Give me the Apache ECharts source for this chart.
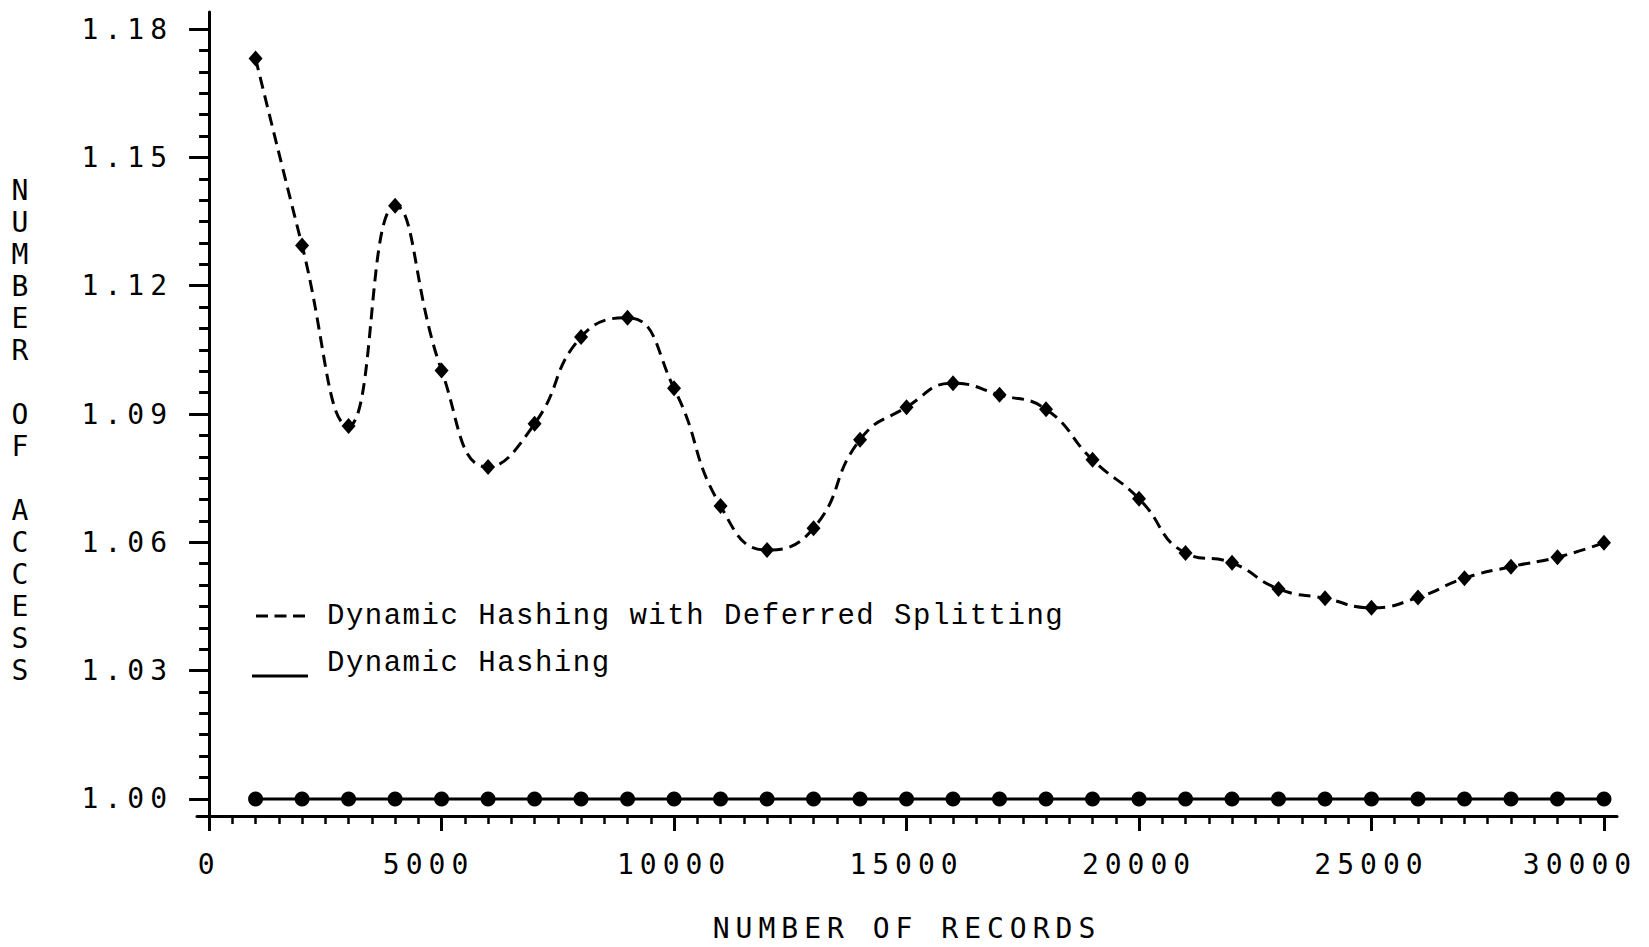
<!DOCTYPE html>
<html>
<head>
<meta charset="utf-8">
<script src="https://cdn.jsdelivr.net/npm/echarts@6/dist/echarts.min.js"></script>
<style>
html,body{margin:0;padding:0;background:#fff;}
#chart{width:1649px;height:947px;}
text[style*="DejaVu Sans Mono"], text[font-family*="DejaVu Sans Mono"]{letter-spacing:6px;}
text[style*="Liberation Mono"], text[font-family*="Liberation Mono"]{letter-spacing:1.5px;}
</style>
</head>
<body>
<div id="chart"></div>
<script>
// ---- data ----
const seriesNames = ['Dynamic Hashing with Deferred Splitting', 'Dynamic Hashing'];
const records = [1000,2000,3000,4000,5000,6000,7000,8000,9000,10000,
                 11000,12000,13000,14000,15000,16000,17000,18000,19000,20000,
                 21000,22000,23000,24000,25000,26000,27000,28000,29000,30000];
const deferredSplitting = [1.1731,1.1294,1.0872,1.1387,1.1002,1.0776,1.0877,1.1080,1.1125,1.0960,
                           1.0685,1.0582,1.0633,1.0840,1.0916,1.0972,1.0945,1.0911,1.0793,1.0702,
                           1.0575,1.0552,1.0491,1.0469,1.0447,1.0471,1.0516,1.0543,1.0565,1.0599];
const dynamicHashing = [1.00,1.00,1.00,1.00,1.00,1.00,1.00,1.00,1.00,1.00,
                        1.00,1.00,1.00,1.00,1.00,1.00,1.00,1.00,1.00,1.00,
                        1.00,1.00,1.00,1.00,1.00,1.00,1.00,1.00,1.00,1.00];
const xTickLabels = [0,5000,10000,15000,20000,25000,30000];
const yTickLabels = [1.00,1.03,1.06,1.09,1.12,1.15,1.18];
const xTitle = 'NUMBER OF RECORDS';
const yTitle = 'NUMBER OF ACCESS';

// ---- scales / ticks ----
const X_MIN = -260, X_MAX = 30280, Y_MIN = 0.996, Y_MAX = 1.184;
const xMinor = []; for (let v = 0; v <= 30000; v += 500) xMinor.push(v);
const yMinor = []; for (let i = 0; i <= 36; i++) yMinor.push((1000 + 5 * i) / 1000);

const tickFont = 'DejaVu Sans Mono';
const black = '#000';
const tokenBase = {fontFamily: tickFont, fontSize: 28, color: black};

const chart = echarts.init(document.getElementById('chart'), null, {renderer: 'svg'});

const yTitleText = '\n' + yTitle.split('').map(c => c === ' ' ? '' : c).join('\n');

chart.setOption({
  animation: false,
  backgroundColor: '#fff',
  grid: {left: 197, right: 32, top: 12, bottom: 131, outerBoundsMode: 'none'},
  legend: {
    left: 247, top: 596, orient: 'vertical',
    itemWidth: 70, itemHeight: 30, itemGap: 17,
    selectedMode: false,
    itemStyle: {borderWidth: 0},
    textStyle: {fontFamily: 'Liberation Mono', fontSize: 29, color: black},
    data: [
      {name: seriesNames[0], icon: 'path://M0,0M70,30M4,13.5L16,13.5L16,16.5L4,16.5ZM22.5,13.5L34.5,13.5L34.5,16.5L22.5,16.5ZM41,13.5L53,13.5L53,16.5L41,16.5Z'},
      {name: seriesNames[1], icon: 'path://M0,0M70,30M0,26.5L56,26.5L56,29.5L0,29.5Z'}
    ]
  },
  xAxis: [
    {
      type: 'value', position: 'bottom', min: X_MIN, max: X_MAX,
      name: xTitle, nameLocation: 'middle', nameGap: 98, nameMoveOverlap: false,
      nameTextStyle: {fontFamily: tickFont, fontSize: 28, color: black},
      axisLine: {show: true, lineStyle: {color: black, width: 3}},
      axisTick: {show: true, length: 15, customValues: xTickLabels, lineStyle: {color: black, width: 3}},
      axisLabel: {show: true, customValues: xTickLabels, margin: 34,
                  fontFamily: tickFont, fontSize: 28, color: black,
                  formatter: v => v === 30000 ? '{e|' + v + '}' : (v === 5000 ? '{f|' + v + '}' : String(v)),
                  rich: {
                    e: Object.assign({padding: [0, 48, 0, 0]}, tokenBase),
                    f: Object.assign({padding: [0, 26, 0, 0]}, tokenBase)
                  }},
      splitLine: {show: false}
    },
    {
      type: 'value', position: 'bottom', min: X_MIN, max: X_MAX,
      axisLine: {show: false},
      axisTick: {show: true, length: 8, customValues: xMinor, lineStyle: {color: black, width: 2.5}},
      axisLabel: {show: false},
      splitLine: {show: false}
    }
  ],
  yAxis: [
    {
      type: 'value', position: 'left', min: Y_MIN, max: Y_MAX,
      name: yTitleText, nameLocation: 'middle', nameGap: 174, nameRotate: 0, nameMoveOverlap: false,
      nameTextStyle: {fontFamily: tickFont, fontSize: 28, color: black, lineHeight: 32,
                      align: 'center', verticalAlign: 'middle'},
      axisLine: {show: true, lineStyle: {color: black, width: 3}},
      axisTick: {show: true, length: 20, customValues: yTickLabels, lineStyle: {color: black, width: 3}},
      axisLabel: {show: true, customValues: yTickLabels, margin: 24,
                  fontFamily: tickFont, fontSize: 28, color: black,
                  formatter: v => Number(v).toFixed(2)},
      splitLine: {show: false}
    },
    {
      type: 'value', position: 'left', min: Y_MIN, max: Y_MAX,
      axisLine: {show: false},
      axisTick: {show: true, length: 10, customValues: yMinor, lineStyle: {color: black, width: 3}},
      axisLabel: {show: false},
      splitLine: {show: false}
    }
  ],
  series: [
    {
      name: seriesNames[0], type: 'line', xAxisIndex: 0, yAxisIndex: 0,
      data: records.map((x, i) => [x, deferredSplitting[i]]),
      smooth: 0.5, showAllSymbol: true,
      symbol: 'diamond', symbolSize: [14, 16],
      lineStyle: {color: black, width: 3, type: [12, 7]},
      itemStyle: {color: black, borderWidth: 0},
      emphasis: {disabled: true},
      z: 3
    },
    {
      name: seriesNames[1], type: 'line', xAxisIndex: 0, yAxisIndex: 0,
      data: records.map((x, i) => [x, dynamicHashing[i]]),
      showAllSymbol: true,
      symbol: 'circle', symbolSize: 15,
      lineStyle: {color: black, width: 3},
      itemStyle: {color: black, borderWidth: 0},
      emphasis: {disabled: true},
      z: 3
    }
  ]
});
</script>
</body>
</html>
